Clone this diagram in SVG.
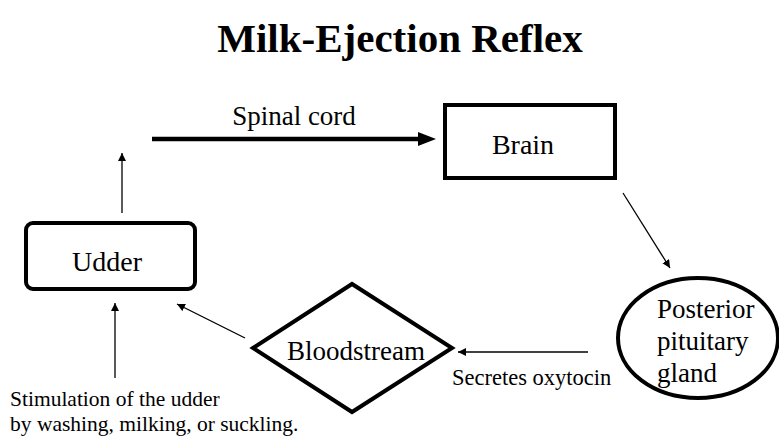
<svg xmlns="http://www.w3.org/2000/svg" width="779" height="440" viewBox="0 0 779 440">
<style>
text{font-family:"Liberation Serif","Times New Roman",serif;fill:#000}
.box{fill:#fff;stroke:#000;stroke-width:4}
.thin{stroke:#000;stroke-width:1.3;fill:none}
.thick{stroke:#000;stroke-width:4.5;fill:none}
.lbl{font-size:27px}
</style>
<defs>
<marker id="ah" viewBox="0 0 10 10" refX="10" refY="5" markerWidth="8" markerHeight="8" markerUnits="userSpaceOnUse" orient="auto"><path d="M0,0L10,5L0,10z" fill="#000"/></marker>
</defs>
<rect width="779" height="440" fill="#fff"/>
<text x="400" y="52" text-anchor="middle" font-size="41" font-weight="bold">Milk-Ejection Reflex</text>
<g id="connectors">
<line class="thick" x1="152" y1="139" x2="420" y2="139"/>
<path d="M418,132L436,139L418,146z" fill="#000"/>
<text x="294" y="125" text-anchor="middle" class="lbl">Spinal cord</text>
<line class="thin" x1="122" y1="213" x2="122" y2="153" marker-end="url(#ah)"/>
<line class="thin" x1="115" y1="378" x2="115" y2="303" marker-end="url(#ah)"/>
<line class="thin" x1="245" y1="338" x2="177" y2="304" marker-end="url(#ah)"/>
<line class="thin" x1="588" y1="352" x2="458" y2="352" marker-end="url(#ah)"/>
<text x="452" y="385" font-size="22.5">Secretes oxytocin</text>
<line class="thin" x1="623" y1="193" x2="670" y2="268" marker-end="url(#ah)"/>
<text x="10" y="406" font-size="21.5">Stimulation of the udder</text>
<text x="10" y="431" font-size="21.5">by washing, milking, or suckling.</text>
</g>
<g id="brain">
<rect class="box" x="445" y="105" width="170" height="73"/>
<text x="523" y="154" text-anchor="middle" font-size="28">Brain</text>
</g>
<g id="udder">
<rect class="box" x="26" y="223" width="169" height="66" rx="7"/>
<text x="107" y="271" text-anchor="middle" font-size="28">Udder</text>
</g>
<g id="bloodstream">
<polygon class="box" points="253,348 352,284 452,348 352,412"/>
<text x="356" y="360" text-anchor="middle" class="lbl">Bloodstream</text>
</g>
<g id="pituitary">
<ellipse class="box" cx="698" cy="338" rx="80" ry="60"/>
<text x="657" y="318" font-size="27">Posterior</text>
<text x="657" y="350" font-size="27">pituitary</text>
<text x="657" y="382" font-size="27">gland</text>
</g>
</svg>
